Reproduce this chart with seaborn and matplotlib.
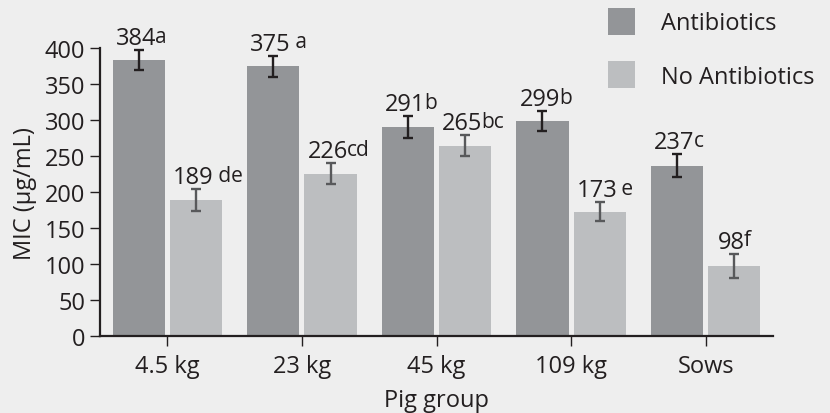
import matplotlib
matplotlib.use("Agg")
import matplotlib.pyplot as plt
import seaborn as sns
import pandas as pd
from matplotlib.patches import Patch
from matplotlib.container import BarContainer

# ---- data ----
groups = ["4.5 kg", "23 kg", "45 kg", "109 kg", "Sows"]
treatments = ["Antibiotics", "No Antibiotics"]
antibiotics = [384, 375, 291, 299, 237]
no_antibiotics = [189, 226, 265, 173, 98]
err_antibiotics = [14, 15, 15, 14, 16]
err_no_antibiotics = [15, 15, 14, 13, 17]
letters_antibiotics = ["a", " a", "b", "b", "c"]
letters_no_antibiotics = [" de", "cd", "bc", " e", "f"]
yticks = [0, 50, 100, 150, 200, 250, 300, 350, 400]
ylabel = "MIC (µg/mL)"
xlabel = "Pig group"

# ---- style ----
BG = "#eeeeee"
DARK = "#939598"
LIGHT = "#bcbec0"
INK = "#231f20"
ERR_LIGHT = "#58595b"
FS = 17

sns.set_theme(style="ticks")
plt.rcParams["font.family"] = ["Open Sans", "DejaVu Sans"]
plt.rcParams["text.color"] = INK

df = pd.DataFrame({
    "group": groups * 2,
    "treatment": [treatments[0]] * len(groups) + [treatments[1]] * len(groups),
    "mic": antibiotics + no_antibiotics,
})

fig = plt.figure(figsize=(8.3, 4.14), dpi=100, facecolor=BG)
ax = fig.add_axes([100 / 830, 76.7 / 414, 673 / 830, 288 / 414])
ax.set_facecolor(BG)

sns.barplot(data=df, x="group", y="mic", hue="treatment", order=groups,
            hue_order=treatments, palette=[DARK, LIGHT], width=0.85, gap=0.09,
            errorbar=None, saturation=1, legend=False, linewidth=0,
            edgecolor="none", ax=ax)

bar_conts = [c for c in ax.containers if isinstance(c, BarContainer)]
errs = [err_antibiotics, err_no_antibiotics]
letters = [letters_antibiotics, letters_no_antibiotics]
ecolors = [INK, ERR_LIGHT]
for ci, cont in enumerate(bar_conts):
    xs = [b.get_x() + b.get_width() / 2 for b in cont]
    hs = [b.get_height() for b in cont]
    ax.errorbar(xs, hs, yerr=errs[ci], fmt="none", ecolor=ecolors[ci],
                elinewidth=1.7, capsize=3.8, capthick=1.7, zorder=3)
    for x, h, e, lt in zip(xs, hs, errs[ci], letters[ci]):
        num = ax.annotate(f"{h:.0f}", xy=(x, h + e), xytext=(-2, 4.3),
                          textcoords="offset points", ha="center", va="baseline",
                          fontsize=FS, color=INK)
        ax.annotate(lt, xy=(1.0, 0.0), xycoords=num, xytext=(-0.6, 2.2),
                    textcoords="offset points", ha="left", va="bottom",
                    fontsize=15, color=INK)

ax.set_xlim(-0.5, 4.5)
ax.set_ylim(0, 400)
ax.set_yticks(yticks)
ax.set_xlabel(xlabel, fontsize=FS, color=INK)
ax.set_ylabel(ylabel, fontsize=FS, color=INK)
ax.xaxis.set_label_coords(0.5, -0.178)
ax.yaxis.set_label_coords(-0.094, 0.5)

sns.despine(ax=ax)
for s in ["left", "bottom"]:
    ax.spines[s].set_linewidth(1.6)
    ax.spines[s].set_color(INK)
ax.tick_params(axis="both", length=7.5, width=1, color=INK, labelsize=FS,
               labelcolor=INK)
ax.tick_params(axis="y", pad=3)
ax.tick_params(axis="x", pad=5)

handles = [Patch(facecolor=DARK, edgecolor="none"), Patch(facecolor=LIGHT, edgecolor="none")]
leg = fig.legend(handles, treatments, loc="upper left",
                 bbox_to_anchor=(608 / 830, 1 - 9 / 414), frameon=False,
                 fontsize=FS, handlelength=1.14, handleheight=1.38,
                 handletextpad=1.1, labelspacing=1.1, borderpad=0,
                 borderaxespad=0)
for t in leg.get_texts():
    t.set_color(INK)

fig.savefig("out.png", dpi=100, facecolor=BG)
